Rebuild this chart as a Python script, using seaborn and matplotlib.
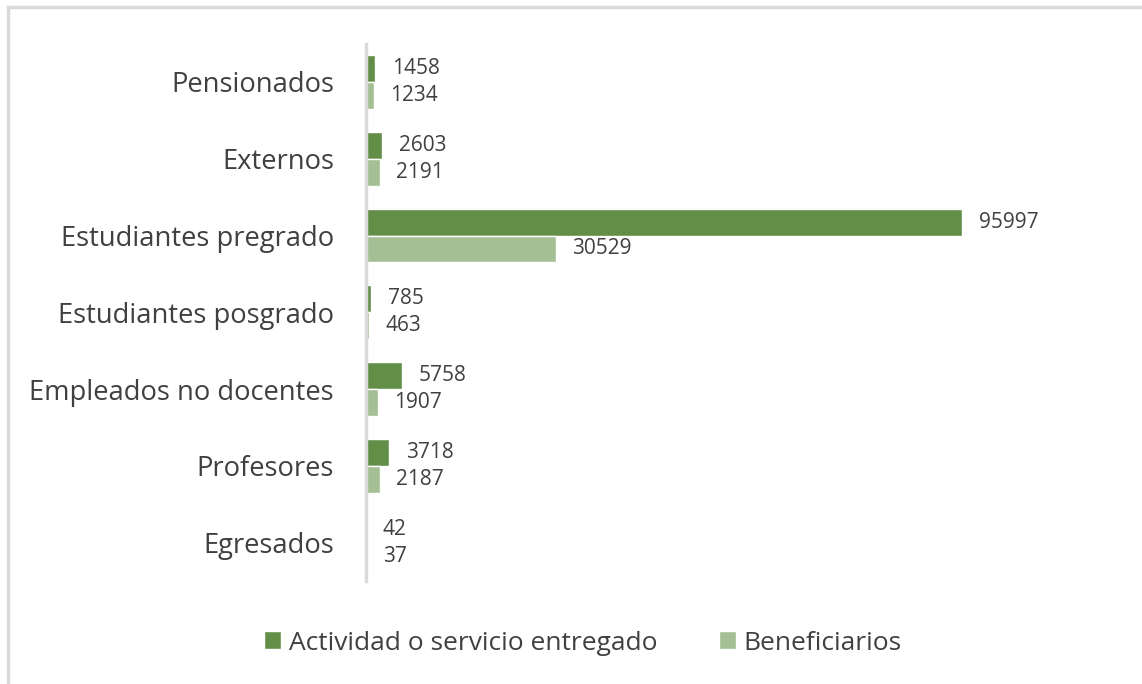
import pandas as pd
import numpy as np
import seaborn as sns
import matplotlib.pyplot as plt
from matplotlib.patches import Rectangle

# data
categorias = ['Pensionados', 'Externos', 'Estudiantes pregrado', 'Estudiantes posgrado',
              'Empleados no docentes', 'Profesores', 'Egresados']
actividad = [1458, 2603, 95997, 785, 5758, 3718, 42]
beneficiarios = [1234, 2191, 30529, 463, 1907, 2187, 37]
series = ['Actividad o servicio entregado', 'Beneficiarios']

df = pd.DataFrame({'categoria': categorias * 2,
                   'valor': actividad + beneficiarios,
                   'serie': [series[0]] * len(categorias) + [series[1]] * len(categorias)})

sns.set_style('white')
plt.rcParams['font.family'] = ['Open Sans', 'DejaVu Sans']
gris = '#404040'

fig = plt.figure(figsize=(11.42, 6.84), dpi=100)
ax = fig.add_axes([366/1142, 1 - 581/684, (1100 - 366)/1142, (581 - 43.6)/684])

sns.barplot(data=df, y='categoria', x='valor', hue='serie', orient='h',
            palette=['#5F9A3C', '#A2C68C'], width=0.7, ax=ax, legend=True)

for c in ax.containers:
    ax.bar_label(c, labels=[str(int(v)) for v in c.datavalues], padding=12,
                 fontsize=15, color=gris)

ax.set_xlim(0, 95997 * (1100 - 366) / 596)
ax.set_xlabel('')
ax.set_ylabel('')
ax.set_xticks([])
ax.tick_params(axis='y', length=0, pad=23, labelsize=19.7, labelcolor=gris)
for s in ['top', 'right', 'bottom']:
    ax.spines[s].set_visible(False)
ax.spines['left'].set_color('#d9d9d9')
ax.spines['left'].set_linewidth(2.5)

h, l = ax.get_legend_handles_labels()
ax.get_legend().remove()
fig.legend(h, l, loc='center', bbox_to_anchor=(583/1142, 1 - 643/684), ncol=2,
           frameon=False, fontsize=19, labelcolor=gris, handlelength=0.65,
           handleheight=0.65, handletextpad=0.3, columnspacing=2.3)

# marco gris del recuadro
fig.patches.append(Rectangle((8/1142, -0.1), 1.2, 1.1 - 7/684, transform=fig.transFigure,
                             fill=False, edgecolor='#d9d9d9', linewidth=2.5))

fig.savefig('out.png', dpi=100)
